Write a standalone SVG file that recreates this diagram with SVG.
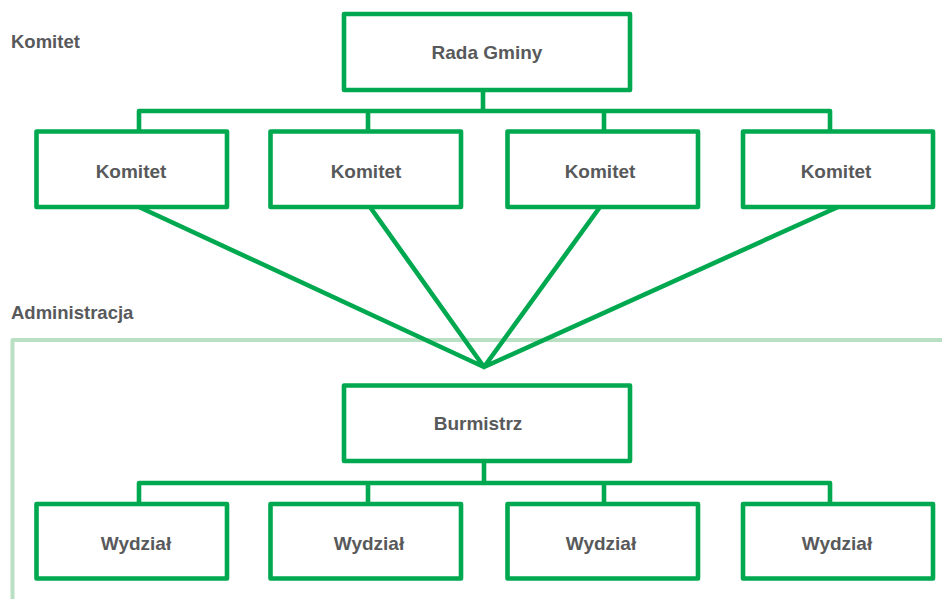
<svg xmlns="http://www.w3.org/2000/svg" width="942" height="599" viewBox="0 0 942 599">
<style>
.box{fill:#fff;stroke:#00a94f;stroke-width:4.6;stroke-linejoin:round}
.ln{fill:none;stroke:#00a94f;stroke-width:4.6;stroke-linejoin:round}
.zone{fill:none;stroke:#b9e0c2;stroke-width:4;stroke-linejoin:round}
.t{font-family:"Liberation Sans",Arial,sans-serif;font-weight:bold;font-size:19px;fill:#58595b;text-anchor:middle}
.lbl{font-family:"Liberation Sans",Arial,sans-serif;font-weight:bold;font-size:18.5px;fill:#58595b}
</style>
<rect width="942" height="599" fill="#fff"/>
<g id="zone-administracja">
<path class="zone" d="M12.5,599 V340 H942"/>
<text class="lbl" x="11" y="319">Administracja</text>
</g>
<g id="zone-komitet">
<text class="lbl" x="11" y="48">Komitet</text>
</g>
<g id="connectors">
<path class="ln" d="M139,131.5 V111 H830 V131.5 M368,111 V131.5 M604,111 V131.5 M483,90 V111"/>
<path class="ln" d="M139,207 L484,367 L370,207 M484,367 L600,207 M484,367 L838,207"/>
<path class="ln" d="M139,504 V483 H830 V504 M368,483 V504 M604,483 V504 M484,461 V483"/>
</g>
<g id="rada-gminy"><rect class="box" x="344" y="14" width="286" height="76"/><text class="t" x="487" y="59">Rada Gminy</text></g>
<g id="komitet-1"><rect class="box" x="36.5" y="131.5" width="190.5" height="75.5"/><text class="t" x="131" y="178">Komitet</text></g>
<g id="komitet-2"><rect class="box" x="270.5" y="131.5" width="190.5" height="75.5"/><text class="t" x="366" y="178">Komitet</text></g>
<g id="komitet-3"><rect class="box" x="507.5" y="131.5" width="190.5" height="75.5"/><text class="t" x="600" y="178">Komitet</text></g>
<g id="komitet-4"><rect class="box" x="743" y="131.5" width="190" height="75.5"/><text class="t" x="836" y="178">Komitet</text></g>
<g id="burmistrz"><rect class="box" x="344" y="385.5" width="286" height="75.5"/><text class="t" x="478" y="430">Burmistrz</text></g>
<g id="wydzial-1"><rect class="box" x="36.5" y="504" width="190.5" height="74.5"/><text class="t" x="136" y="550">Wydział</text></g>
<g id="wydzial-2"><rect class="box" x="270.5" y="504" width="190.5" height="74.5"/><text class="t" x="369" y="550">Wydział</text></g>
<g id="wydzial-3"><rect class="box" x="507.5" y="504" width="190.5" height="74.5"/><text class="t" x="601" y="550">Wydział</text></g>
<g id="wydzial-4"><rect class="box" x="743" y="504" width="190" height="74.5"/><text class="t" x="837" y="550">Wydział</text></g>
</svg>
